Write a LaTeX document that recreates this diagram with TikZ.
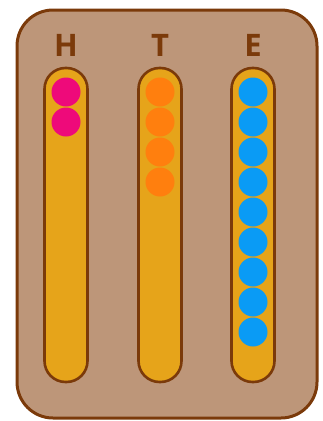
\documentclass[tikz,border=0pt]{standalone}
\usepackage{fontspec}
\setmainfont{Open Sans}
\definecolor{board}{HTML}{BD9679}
\definecolor{rim}{HTML}{7B3A0A}
\definecolor{tube}{HTML}{E6A41A}
\definecolor{beadH}{HTML}{EE0A7A}
\definecolor{beadT}{HTML}{FF7F0E}
\definecolor{beadE}{HTML}{0A9BF5}
\begin{document}
\begin{tikzpicture}[x=1pt,y=-1pt]
  \useasboundingbox (0,0) rectangle (323,421);
  % tafel
  \draw[rim, fill=board, line width=3pt, rounded corners=36pt] (17,10) rectangle (317,418);
  % stangen met kralen
  \foreach \x/\l/\n/\c in {66/H/2/beadH, 160/T/4/beadT, 253/E/9/beadE} {
    \node[rim, font=\bfseries\fontsize{31}{31}\selectfont] (lbl\l) at (\x,45) {\l};
    \draw[rim, fill=tube, line width=2.6pt, rounded corners=21pt] (\x-21.5,68) rectangle (\x+21.5,382);
    \foreach \k in {1,...,\n}
      \fill[\c] (\x,92+30*\k-30) circle (14.5pt);
  }
\end{tikzpicture}
\end{document}
